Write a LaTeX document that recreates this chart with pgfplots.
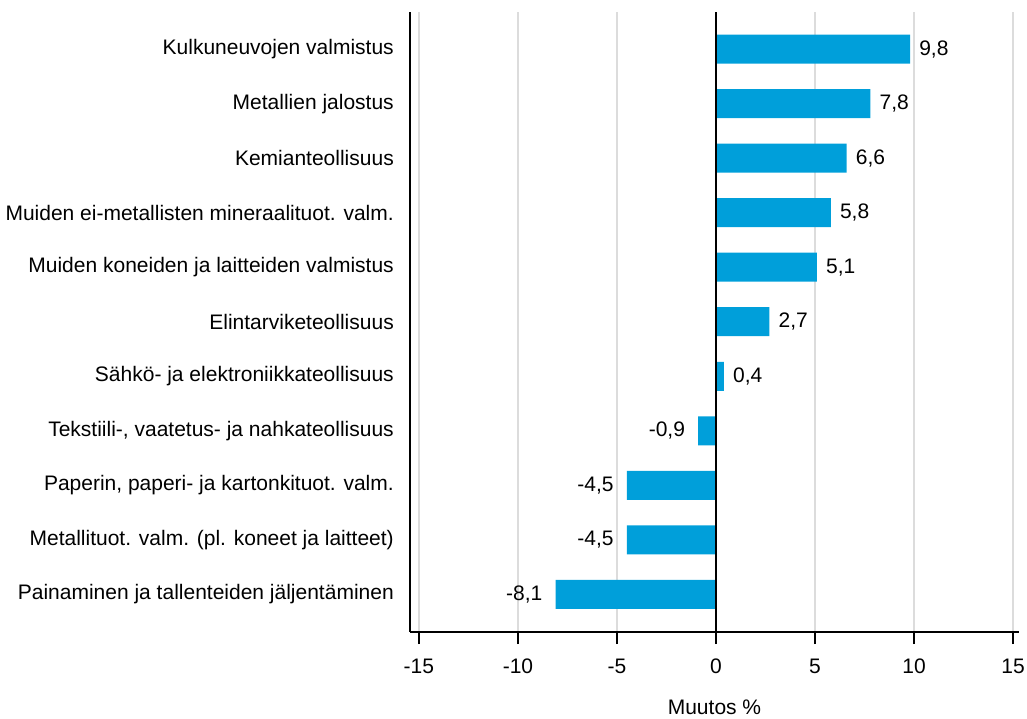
\documentclass[border=0pt]{standalone}
\usepackage{fontspec}
\setmainfont{Liberation Sans}
\usepackage{pgfplots}
\pgfplotsset{compat=1.18}
\definecolor{barblue}{RGB}{0,159,218}
\definecolor{gridgray}{RGB}{220,220,220}
\begin{document}
\fontsize{21bp}{25bp}\selectfont
\begin{tikzpicture}
\useasboundingbox (0,0) rectangle (1027bp,719bp);
\begin{axis}[
  at={(410bp,87bp)}, anchor=south west,
  scale only axis,
  width=609bp, height=620bp,
  xmin=-15.45, xmax=15.3,
  ymin=-0.69, ymax=10.68,
  axis x line=bottom, axis y line=left,
  axis line style={-, black, line width=1.4bp},
  xtick={-15,-10,-5,0,5,10,15},
  tick align=outside,
  major tick length=12bp,
  xtick style={black, line width=1.2bp},
  ytick={0,...,10},
  ytick style={draw=none},
  yticklabels={Painaminen ja tallenteiden jäljentäminen,
    {Metallituot. valm. (pl. koneet ja laitteet)},
    {Paperin, paperi- ja kartonkituot. valm.},
    {Tekstiili-, vaatetus- ja nahkateollisuus},
    Sähkö- ja elektroniikkateollisuus,
    Elintarviketeollisuus,
    Muiden koneiden ja laitteiden valmistus,
    Muiden ei-metallisten mineraalituot. valm.,
    Kemianteollisuus,
    Metallien jalostus,
    Kulkuneuvojen valmistus},
  yticklabel style={font=\fontsize{21bp}{25bp}\selectfont, inner xsep=0pt, xshift=-4bp},
  xticklabel style={font=\fontsize{21bp}{25bp}\selectfont, yshift=-8bp},
  /pgf/number format/assume math mode=true,
  xmajorgrids,
  grid style={gridgray, line width=1.2bp},
  xlabel={Muutos \%},
  xlabel style={font=\fontsize{21bp}{25bp}\selectfont, yshift=-12bp},
  xbar, bar width=29bp,
  nodes near coords,
  point meta=explicit,
  nodes near coords style={font=\fontsize{21bp}{25bp}\selectfont,
    /pgf/number format/fixed, /pgf/number format/fixed zerofill,
    /pgf/number format/precision=1, /pgf/number format/use comma,
    /pgf/number format/assume math mode=true},
]
\addplot[fill=barblue, draw=none, bar shift=0pt,
  nodes near coords style={anchor=west, xshift=2bp}]
  coordinates {(9.8,10) [9.8] (7.8,9) [7.8] (6.6,8) [6.6] (5.8,7) [5.8] (5.1,6) [5.1] (2.7,5) [2.7] (0.4,4) [0.4]};
\addplot[fill=barblue, draw=none, bar shift=0pt,
  nodes near coords style={anchor=east, xshift=-6bp}]
  coordinates {(-0.9,3) [-0.9] (-4.5,2) [-4.5] (-4.5,1) [-4.5] (-8.1,0) [-8.1]};
\draw[black, line width=1.4bp] (axis cs:0,-0.69) -- (axis cs:0,10.68);
\end{axis}
\end{tikzpicture}
\end{document}
